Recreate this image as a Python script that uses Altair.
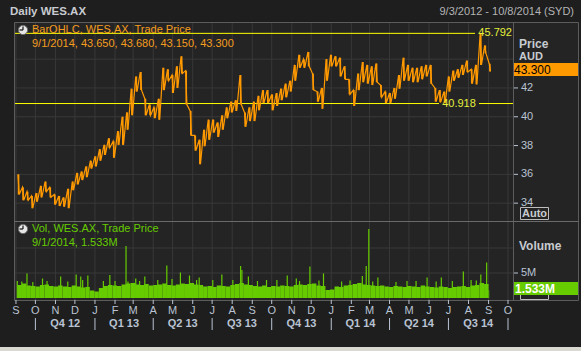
import altair as alt
import pandas as pd

FONT = "Liberation Sans"
BG = "#1e1e1e"
PANEL = "#242424"
GRID = "#383838"
FRAME = "#5c5c5c"
ORANGE = "#ff9900"
ORANGE_TXT = "#f59d1e"
GREEN = "#66cc00"
YELLOW = "#ffff00"
LEVEL_TXT = "#e4f03c"
AXIS_TXT = "#b9c3d3"
HEAD_TXT = "#c8cbd0"

# ---------------- data ----------------
# weekly high / low of WES.AX (AUD), weeks starting Monday 3 Sep 2012
wk_high = [36.0, 35.1, 34.8, 34.5, 34.7, 35.2, 35.5, 35.1, 34.6, 34.5,
           34.4, 35.0, 35.5, 36.1, 36.2, 36.55, 36.95, 37.25, 37.75, 38.05,
           38.5, 38.3, 39.0, 40.0, 40.3, 41.95, 42.8, 43.1, 41.25, 40.85,
           40.65, 41.25, 43.4, 43.3, 42.9, 43.5, 44.2, 43.2, 40.4, 38.7,
           38.4, 39.1, 39.8, 39.8, 39.6, 40.1, 40.65, 41.05, 41.15, 42.9,
           40.3, 40.65, 41.05, 41.45, 41.85, 41.85, 41.55, 41.65, 41.95, 42.3,
           42.5, 43.6, 44.3, 44.0, 44.5, 43.0, 41.75, 42.0, 44.0, 44.3,
           44.2, 44.1, 43.5, 42.6, 41.85, 43.0, 43.8, 43.6, 43.5, 43.7,
           42.2, 41.75, 41.65, 42.0, 42.9, 44.1, 43.6, 43.4, 43.4, 43.5,
           43.6, 43.6, 42.0, 41.85, 41.75, 42.8, 43.2, 43.3, 43.6, 43.9,
           43.3, 43.6, 45.792, 44.95, 43.68]
wk_low = [34.6, 34.2, 34.2, 33.65, 34.1, 34.4, 34.8, 34.4, 33.9, 33.8,
          33.75, 33.65, 34.9, 35.3, 35.6, 35.8, 36.4, 36.55, 36.95, 37.35,
          37.85, 37.15, 38.05, 38.05, 39.1, 40.1, 41.75, 41.85, 40.1, 40.1,
          39.9, 39.8, 41.85, 42.5, 41.65, 42.0, 43.0, 40.85, 38.7, 37.65,
          36.7, 37.95, 38.4, 38.9, 38.6, 39.1, 39.9, 40.3, 40.4, 40.85,
          39.3, 39.7, 39.7, 40.45, 40.95, 40.95, 40.45, 40.75, 41.15, 41.35,
          41.75, 42.5, 43.4, 43.4, 43.5, 41.85, 41.05, 40.55, 42.5, 43.5,
          43.5, 42.8, 42.6, 41.55, 40.75, 41.85, 42.4, 42.3, 42.2, 42.4,
          41.35, 40.95, 40.95, 41.25, 41.95, 42.5, 42.5, 42.4, 42.4, 42.6,
          42.8, 42.3, 41.05, 41.0, 40.95, 41.75, 42.5, 42.7, 42.9, 43.1,
          42.3, 42.25, 43.6, 44.4, 43.15]
# typical daily volume per week (millions)
wk_vol = [2.6, 2.9, 2.5, 2.4, 2.3, 2.6, 2.7, 2.4,
          2.3, 2.5, 2.3, 2.2, 2.5, 2.3, 2.1, 2.2,
          1.5, 1.3, 2.0,
          2.4, 2.6, 2.5, 2.4, 2.7,
          2.9, 3.0, 2.7, 2.6, 2.8, 2.5, 2.6, 2.7, 2.9, 2.6, 2.5,
          2.7, 2.9, 2.8, 3.0, 2.7, 2.6, 2.3, 2.4, 2.2, 2.5, 2.4, 2.3, 2.6, 2.8, 3.0, 2.7, 2.6,
          2.4, 2.3, 2.5, 2.2, 2.4, 2.3, 2.5, 2.4, 2.3, 2.6, 2.7,
          2.6, 2.8, 2.9, 2.5, 2.4,
          1.6, 1.7,
          2.3, 2.2, 2.5, 2.6, 2.8, 3.0, 2.7, 2.6, 2.5, 2.4,
          2.5, 2.3, 2.2, 2.4, 2.3, 2.2, 2.4, 2.3, 2.2, 2.5, 2.3, 2.2,
          2.1, 2.3, 2.2, 2.0, 2.2, 2.3, 2.4, 2.2, 2.5, 2.6, 3.0, 2.8, 1.533]
# single-day volume spikes (millions)
spike_dates = ["2012-09-18", "2012-10-12", "2012-11-09", "2012-12-03", "2012-12-10",
               "2012-12-21", "2013-01-24", "2013-02-18", "2013-02-21", "2013-03-19",
               "2013-04-22", "2013-05-13", "2013-05-27", "2013-07-02", "2013-07-16",
               "2013-08-14", "2013-08-16", "2013-08-26", "2013-10-25", "2013-11-08",
               "2013-11-29", "2013-12-20", "2014-02-18", "2014-02-24", "2014-02-28",
               "2014-03-14", "2014-04-28", "2014-05-29", "2014-06-20", "2014-07-24",
               "2014-08-20", "2014-08-29",
               "2012-09-03", "2012-09-10", "2012-09-27", "2012-10-19", "2012-11-20",
               "2012-12-13", "2013-01-14", "2013-02-01", "2013-03-05", "2013-03-11",
               "2013-04-08", "2013-04-30", "2013-06-07", "2013-06-11", "2013-08-02",
               "2013-09-09", "2013-09-23", "2013-10-09", "2013-11-13", "2013-12-13",
               "2014-01-17", "2014-01-30", "2014-03-06", "2014-04-11", "2014-05-12",
               "2014-06-12", "2014-07-07", "2014-08-05", "2014-08-13"]
spike_vol = [4.9, 3.9, 4.3, 4.7, 4.3,
             4.5, 4.6, 10.4, 3.3, 4.3,
             6.5, 5.1, 4.5, 3.6, 4.7,
             6.4, 5.6, 4.3, 4.5, 3.9,
             6.3, 4.9, 4.4, 6.4, 13.8,
             4.1, 3.4, 4.1, 4.1, 5.3,
             4.7, 7.1,
             3.4, 3.3, 3.2, 3.4, 3.3,
             3.6, 3.4, 3.4, 3.9, 3.4,
             3.6, 3.8, 3.6, 4.1, 3.6,
             3.4, 3.6, 3.6, 3.4, 3.5,
             3.3, 3.5, 3.3, 3.2, 3.4,
             3.3, 3.4, 3.6, 3.5]

price_ticks = [42, 40, 38, 36, 34]
price_grid = [44, 42, 40, 38, 36, 34]
vol_grid = [5, 10]
vol_ticks = [5]
vol_tick_labels = ["5M"]
high_level = 45.792
low_level = 40.918
month_letters = list("SONDJFMAMJJASONDJFMAMJJASO")
quarter_labels = ["Q4 12", "Q1 13", "Q2 13", "Q3 13", "Q4 13", "Q1 14", "Q2 14", "Q3 14"]
last_trade = "2014-09-01"

# ---------------- tables ----------------
week_start = pd.date_range("2012-09-03", periods=len(wk_high), freq="7D")
last_ts = pd.Timestamp(last_trade) + pd.Timedelta(days=1)

rows = []
for i, (d, h, l) in enumerate(zip(week_start, wk_high, wk_low)):
    rows.append({"date": (d + pd.Timedelta(days=1)).strftime("%Y-%m-%d"), "price": h, "seq": 2 * i})
    rows.append({"date": (d + pd.Timedelta(days=3)).strftime("%Y-%m-%d"), "price": l, "seq": 2 * i + 1})
price_df = pd.DataFrame(rows)

bar_df = pd.DataFrame({
    "date": (week_start + pd.Timedelta(days=2)).strftime("%Y-%m-%d"),
    "high": wk_high,
    "low": wk_low,
})

vol_df = pd.DataFrame({
    "start": week_start.strftime("%Y-%m-%d"),
    "end": [min(d + pd.Timedelta(days=7), last_ts).strftime("%Y-%m-%d") for d in week_start],
    "vol": wk_vol,
})
spike_df = pd.DataFrame({"date": spike_dates, "vol": spike_vol, "zero": 0.0})

months = pd.date_range("2012-09-01", periods=len(month_letters), freq="MS")
month_df = pd.DataFrame({"date": months.strftime("%Y-%m-%d"), "lab": month_letters})
qb = pd.date_range("2012-10-01", periods=len(quarter_labels) + 1, freq="QS")
qsep_df = pd.DataFrame({"date": qb.strftime("%Y-%m-%d")})
qmid = [qb[i] + (qb[i + 1] - qb[i]) / 2 for i in range(len(quarter_labels))]
qlab_df = pd.DataFrame({"date": [d.strftime("%Y-%m-%dT%H:%M:%SZ") for d in qmid], "lab": quarter_labels})

dummy = pd.DataFrame({"k": [0]})

# ---------------- scales ----------------
SX = alt.Scale(type="utc",
               domain=[alt.DateTime(year=2012, month=8, date=30, hours=12, utc=True),
                       alt.DateTime(year=2014, month=10, date=8, hours=17, utc=True)],
               range=[15, 513], nice=False)
SYP = alt.Scale(domain=[32.83, 46.58], range=[220, 22], nice=False, zero=False)
SYV = alt.Scale(domain=[0, 15.4], range=[298, 221], nice=False, zero=False)


def X(field):
    return alt.X(field, type="temporal", scale=SX, axis=None)


def YP(field):
    return alt.Y(field, type="quantitative", scale=SYP, axis=None)


def YV(field):
    return alt.Y(field, type="quantitative", scale=SYV, axis=None)


def box(x1, x2, y1, y2, **kw):
    return alt.Chart(dummy).mark_rect(**kw).encode(
        x=alt.value(x1), x2=alt.value(x2), y=alt.value(y1), y2=alt.value(y2))


def seg(x1, x2, y1, y2, color, width=1):
    return alt.Chart(dummy).mark_rule(color=color, strokeWidth=width).encode(
        x=alt.value(x1), x2=alt.value(x2), y=alt.value(y1), y2=alt.value(y2))


def label(text, x, y, color, size=11, weight="normal", align="left"):
    return alt.Chart(dummy).mark_text(
        font=FONT, fontSize=size, fontWeight=weight, color=color, align=align, baseline="middle"
    ).encode(x=alt.value(x), y=alt.value(y), text=alt.value(text))


layers = []
# backgrounds
layers.append(box(14.5, 578, 22, 300, fill=PANEL))
layers.append(box(0, 581, 347, 351, fill="#d9d9d2"))

# grid
layers.append(alt.Chart(month_df).mark_rule(color=GRID).encode(
    x=X("date"), y=alt.value(22), y2=alt.value(300)))
layers.append(alt.Chart(pd.DataFrame({"v": price_grid})).mark_rule(color=GRID).encode(
    y=YP("v"), x=alt.value(15), x2=alt.value(513)))
layers.append(alt.Chart(pd.DataFrame({"v": vol_grid})).mark_rule(color=GRID).encode(
    y=YV("v"), x=alt.value(15), x2=alt.value(513)))

# frame
layers.append(box(14.5, 578.5, 22.5, 300.5, fillOpacity=0, stroke=FRAME, strokeWidth=1))
layers.append(seg(513.5, 513.5, 22.5, 300.5, FRAME))
layers.append(seg(14.5, 578.5, 221.5, 221.5, "#6a6a6a"))

# level lines
lv = pd.DataFrame({"v": [high_level]})
layers.append(alt.Chart(lv).mark_rule(color=YELLOW, strokeWidth=1).encode(
    y=YP("v"), x=alt.value(15), x2=alt.value(475)))
lv2 = pd.DataFrame({"v": [low_level]})
layers.append(alt.Chart(lv2).mark_rule(color=YELLOW, strokeWidth=1).encode(
    y=YP("v"), x=alt.value(15), x2=alt.value(439)))
layers.append(alt.Chart(lv2).mark_rule(color=YELLOW, strokeWidth=1).encode(
    y=YP("v"), x=alt.value(479), x2=alt.value(513)))

# volume
layers.append(alt.Chart(vol_df).mark_rect(color=GREEN).encode(
    x=X("start"), x2="end:T", y=YV("vol"), y2=alt.value(298)))
layers.append(alt.Chart(spike_df).mark_rule(color=GREEN, strokeWidth=1.2).encode(
    x=X("date"), y=YV("vol"), y2="zero:Q"))

# price: weekly high-low bars plus a high/low zig-zag (OHLC look)
layers.append(alt.Chart(bar_df).mark_rule(color=ORANGE, strokeWidth=1.6).encode(
    x=X("date"), y=YP("high"), y2="low:Q"))
layers.append(alt.Chart(price_df).mark_line(color=ORANGE, strokeWidth=1.2).encode(
    x=X("date"), y=YP("price"), order="seq:Q"))

# level labels
layers.append(alt.Chart(lv).mark_text(font=FONT, fontSize=11, color=LEVEL_TXT, align="right",
                                      baseline="middle").encode(
    y=YP("v"), x=alt.value(512), text=alt.value(f"{high_level:.3f}")))
layers.append(alt.Chart(lv2).mark_text(font=FONT, fontSize=11, color=LEVEL_TXT, align="center",
                                       baseline="middle").encode(
    y=YP("v"), x=alt.value(459), text=alt.value(f"{low_level:.3f}")))

# right price axis
pt = pd.DataFrame({"v": price_ticks, "lab": [str(t) for t in price_ticks]})
layers.append(alt.Chart(pt).mark_rule(color=AXIS_TXT).encode(
    y=YP("v"), x=alt.value(514), x2=alt.value(518)))
layers.append(alt.Chart(pt).mark_text(font=FONT, fontSize=11, color=AXIS_TXT, align="left",
                                      baseline="middle").encode(
    y=YP("v"), x=alt.value(521), text="lab:N"))
layers.append(label("Price", 519, 44, HEAD_TXT, 12, "bold"))
layers.append(label("AUD", 519, 57, HEAD_TXT, 11, "bold"))
layers.append(box(514, 578, 63, 76, fill=ORANGE))
layers.append(label("43.300", 514, 70, "#000000", 12))
layers.append(box(520.5, 548.5, 207.5, 219.5, fill=PANEL, stroke="#bdbdbd", strokeWidth=1))
layers.append(label("Auto", 522, 214, HEAD_TXT, 11, "bold"))

# right volume axis
vt = pd.DataFrame({"v": vol_ticks, "lab": vol_tick_labels})
layers.append(alt.Chart(vt).mark_rule(color=AXIS_TXT).encode(
    y=YV("v"), x=alt.value(514), x2=alt.value(518)))
layers.append(alt.Chart(vt).mark_text(font=FONT, fontSize=11, color=AXIS_TXT, align="left",
                                      baseline="middle").encode(
    y=YV("v"), x=alt.value(521), text="lab:N"))
layers.append(label("Volume", 519, 246, HEAD_TXT, 12, "bold"))
layers.append(box(520.5, 548.5, 287.5, 299.5, fill=PANEL, stroke="#bdbdbd", strokeWidth=1))
layers.append(box(514, 578, 282, 295, fill=GREEN))
layers.append(label("1.533M", 515, 289, "#ffffff", 12, "bold"))

# bottom axis
layers.append(alt.Chart(month_df).mark_rule(color=AXIS_TXT).encode(
    x=X("date"), y=alt.value(300), y2=alt.value(304)))
layers.append(alt.Chart(month_df).mark_text(font=FONT, fontSize=11, color=AXIS_TXT,
                                            baseline="middle").encode(
    x=X("date"), y=alt.value(311), text="lab:N"))
layers.append(alt.Chart(qsep_df).mark_rule(color=AXIS_TXT).encode(
    x=X("date"), y=alt.value(318), y2=alt.value(330)))
layers.append(alt.Chart(qlab_df).mark_text(font=FONT, fontSize=11, fontWeight="bold", color=AXIS_TXT,
                                           baseline="middle").encode(
    x=X("date"), y=alt.value(324), text="lab:N"))

# headers and legends
layers.append(label("Daily WES.AX", 10, 12, HEAD_TXT, 11.5, "bold"))
layers.append(label("9/3/2012 - 10/8/2014 (SYD)", 574, 12, "#b4b4b4", 11, align="right"))
for cy in (30, 229):
    layers.append(alt.Chart(dummy).mark_point(shape="circle", filled=True, size=85, color="#e6e6e6",
                                              stroke="#6e6e6e", strokeWidth=1, opacity=1).encode(
        x=alt.value(23), y=alt.value(cy)))
    layers.append(seg(23, 23, cy - 3.5, cy, "#111111", 1.2))
    layers.append(seg(19.5, 23, cy, cy, "#111111", 1.2))
layers.append(label("BarOHLC, WES.AX, Trade Price", 32, 30, ORANGE_TXT, 11))
layers.append(label("9/1/2014, 43.650, 43.680, 43.150, 43.300", 32, 44, ORANGE_TXT, 11))
layers.append(label("Vol, WES.AX, Trade Price", 32, 229, GREEN, 11))
layers.append(label("9/1/2014, 1.533M", 32, 243, GREEN, 11))

chart = alt.layer(*layers).resolve_scale(y="independent").properties(
    width=581, height=351, autosize=alt.AutoSizeParams(type="none"), padding=0,
    background=BG,
).configure_view(stroke=None, strokeWidth=0)

chart.save("out.html", embed_options={"renderer": "svg", "actions": False})
